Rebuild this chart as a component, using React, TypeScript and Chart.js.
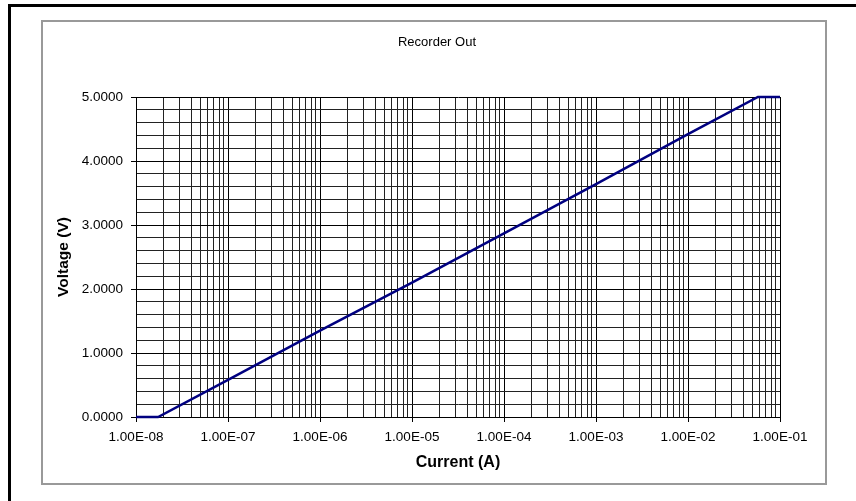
import React, { useEffect, useRef } from "react";
import { Chart, registerables } from "chart.js";

Chart.register(...registerables);

const title = "Recorder Out";
const xAxisTitle = "Current (A)";
const yAxisTitle = "Voltage (V)";

const currentA = [1e-8, 1.74e-8, 1e-7, 1e-6, 1e-5, 1e-4, 1e-3, 1e-2, 5.75e-2, 1e-1];
const voltageV = [0, 0, 0.58, 1.35, 2.1, 2.87, 3.64, 4.42, 5.0, 5.0];

const xDecadeExponents = [-8, -7, -6, -5, -4, -3, -2, -1];
const xTickLabels = ["1.00E-08", "1.00E-07", "1.00E-06", "1.00E-05", "1.00E-04", "1.00E-03", "1.00E-02", "1.00E-01"];
const yTickLabels = ["0.0000", "1.0000", "2.0000", "3.0000", "4.0000", "5.0000"];

const FONT = "'Liberation Sans', Arial, sans-serif";

const decadeIndex = (v: number) => {
  const e = Math.log10(v);
  const r = Math.round(e);
  return Math.abs(e - r) < 1e-6 ? xDecadeExponents.indexOf(r) : -1;
};
const isWhole = (v: number) => Math.abs(v - Math.round(v)) < 1e-6;

export default function App() {
  const ref = useRef<HTMLCanvasElement | null>(null);

  useEffect(() => {
    if (!ref.current) return;
    const chart = new Chart(ref.current, {
      type: "line",
      data: {
        datasets: [
          {
            data: currentA.map((x, i) => ({ x, y: voltageV[i] })),
            borderColor: "#000080",
            borderWidth: 2.5,
            pointRadius: 0,
            tension: 0,
            fill: false,
            clip: false,
          },
        ],
      },
      options: {
        animation: false,
        responsive: false,
        devicePixelRatio: 1,
        layout: { padding: { left: 43, right: 25, top: 22, bottom: 24 } },
        plugins: {
          legend: { display: false },
          tooltip: { enabled: false },
          title: {
            display: true,
            text: title,
            color: "#000",
            font: { family: FONT, size: 13, weight: "normal" },
            padding: { top: 13, bottom: 46.4 },
          },
        },
        scales: {
          x: {
            type: "logarithmic",
            min: 1e-8,
            max: 1e-1,
            afterBuildTicks: (scale: any) => {
              const ticks: { value: number }[] = [];
              for (let k = 0; k < xDecadeExponents.length - 1; k++) {
                const base = Math.pow(10, xDecadeExponents[k]);
                for (let m = 1; m <= 9; m++) ticks.push({ value: m * base });
              }
              ticks.push({ value: Math.pow(10, xDecadeExponents[xDecadeExponents.length - 1]) });
              scale.ticks = ticks;
            },
            afterFit: (scale: any) => {
              scale.height = 60;
              scale.paddingLeft = 0;
              scale.paddingRight = 0;
            },
            ticks: {
              autoSkip: false,
              maxRotation: 0,
              padding: 7,
              color: "#000",
              font: { family: FONT, size: 13.5 },
              callback: (v: any) => {
                const i = decadeIndex(Number(v));
                return i >= 0 ? xTickLabels[i] : "";
              },
            },
            grid: {
              color: (ctx: any) => (ctx.tick && decadeIndex(ctx.tick.value) >= 0 ? "#000" : "#222"),
              lineWidth: 1,
              tickLength: 5,
              tickColor: (ctx: any) => (ctx.tick && decadeIndex(ctx.tick.value) >= 0 ? "#000" : "rgba(0,0,0,0)"),
            },
            border: { display: true, color: "#000", width: 1 },
            title: {
              display: true,
              text: xAxisTitle,
              color: "#000",
              font: { family: FONT, size: 16, weight: "bold" },
              padding: { top: 0, bottom: 4.4 },
            },
          },
          y: {
            type: "linear",
            position: "left",
            min: 0,
            max: 5,
            afterFit: (scale: any) => {
              scale.width = 93;
              scale.paddingTop = 0;
              scale.paddingBottom = 0;
            },
            ticks: {
              stepSize: 0.2,
              autoSkip: false,
              padding: 8,
              color: "#000",
              font: { family: FONT, size: 13.5 },
              callback: (v: any) => (isWhole(Number(v)) ? yTickLabels[Math.round(Number(v))] : ""),
            },
            grid: {
              color: (ctx: any) => (ctx.tick && isWhole(ctx.tick.value) ? "#000" : "#222"),
              lineWidth: 1,
              tickLength: 5,
              tickColor: (ctx: any) => (ctx.tick && isWhole(ctx.tick.value) ? "#000" : "rgba(0,0,0,0)"),
            },
            border: { display: true, color: "#000", width: 1 },
            title: {
              display: true,
              text: yAxisTitle,
              color: "#000",
              font: { family: FONT, size: 15.5, weight: "bold" },
              padding: { top: 11.5, bottom: 0 },
            },
          },
          yRight: {
            type: "linear",
            position: "right",
            min: 0,
            max: 5,
            display: true,
            afterFit: (scale: any) => {
              scale.width = 51;
              scale.paddingTop = 0;
              scale.paddingBottom = 0;
            },
            ticks: { display: false },
            grid: { display: false, drawTicks: false },
            border: { display: false },
          },
        },
      } as any,
    });
    return () => chart.destroy();
  }, []);

  return (
    <div style={{ position: "absolute", left: 0, top: 0, width: 856, height: 501, background: "#fff", overflow: "hidden" }}>
      <div style={{ position: "absolute", left: 8, top: 4, width: 860, height: 3, background: "#000" }} />
      <div style={{ position: "absolute", left: 8, top: 4, width: 3, height: 500, background: "#000" }} />
      <div
        style={{
          position: "absolute",
          left: 41,
          top: 20,
          width: 782,
          height: 461,
          border: "2px solid #999",
        }}
      />
      <canvas ref={ref} width={856} height={501} style={{ position: "absolute", left: 0, top: 0, width: 856, height: 501 }} />
    </div>
  );
}
